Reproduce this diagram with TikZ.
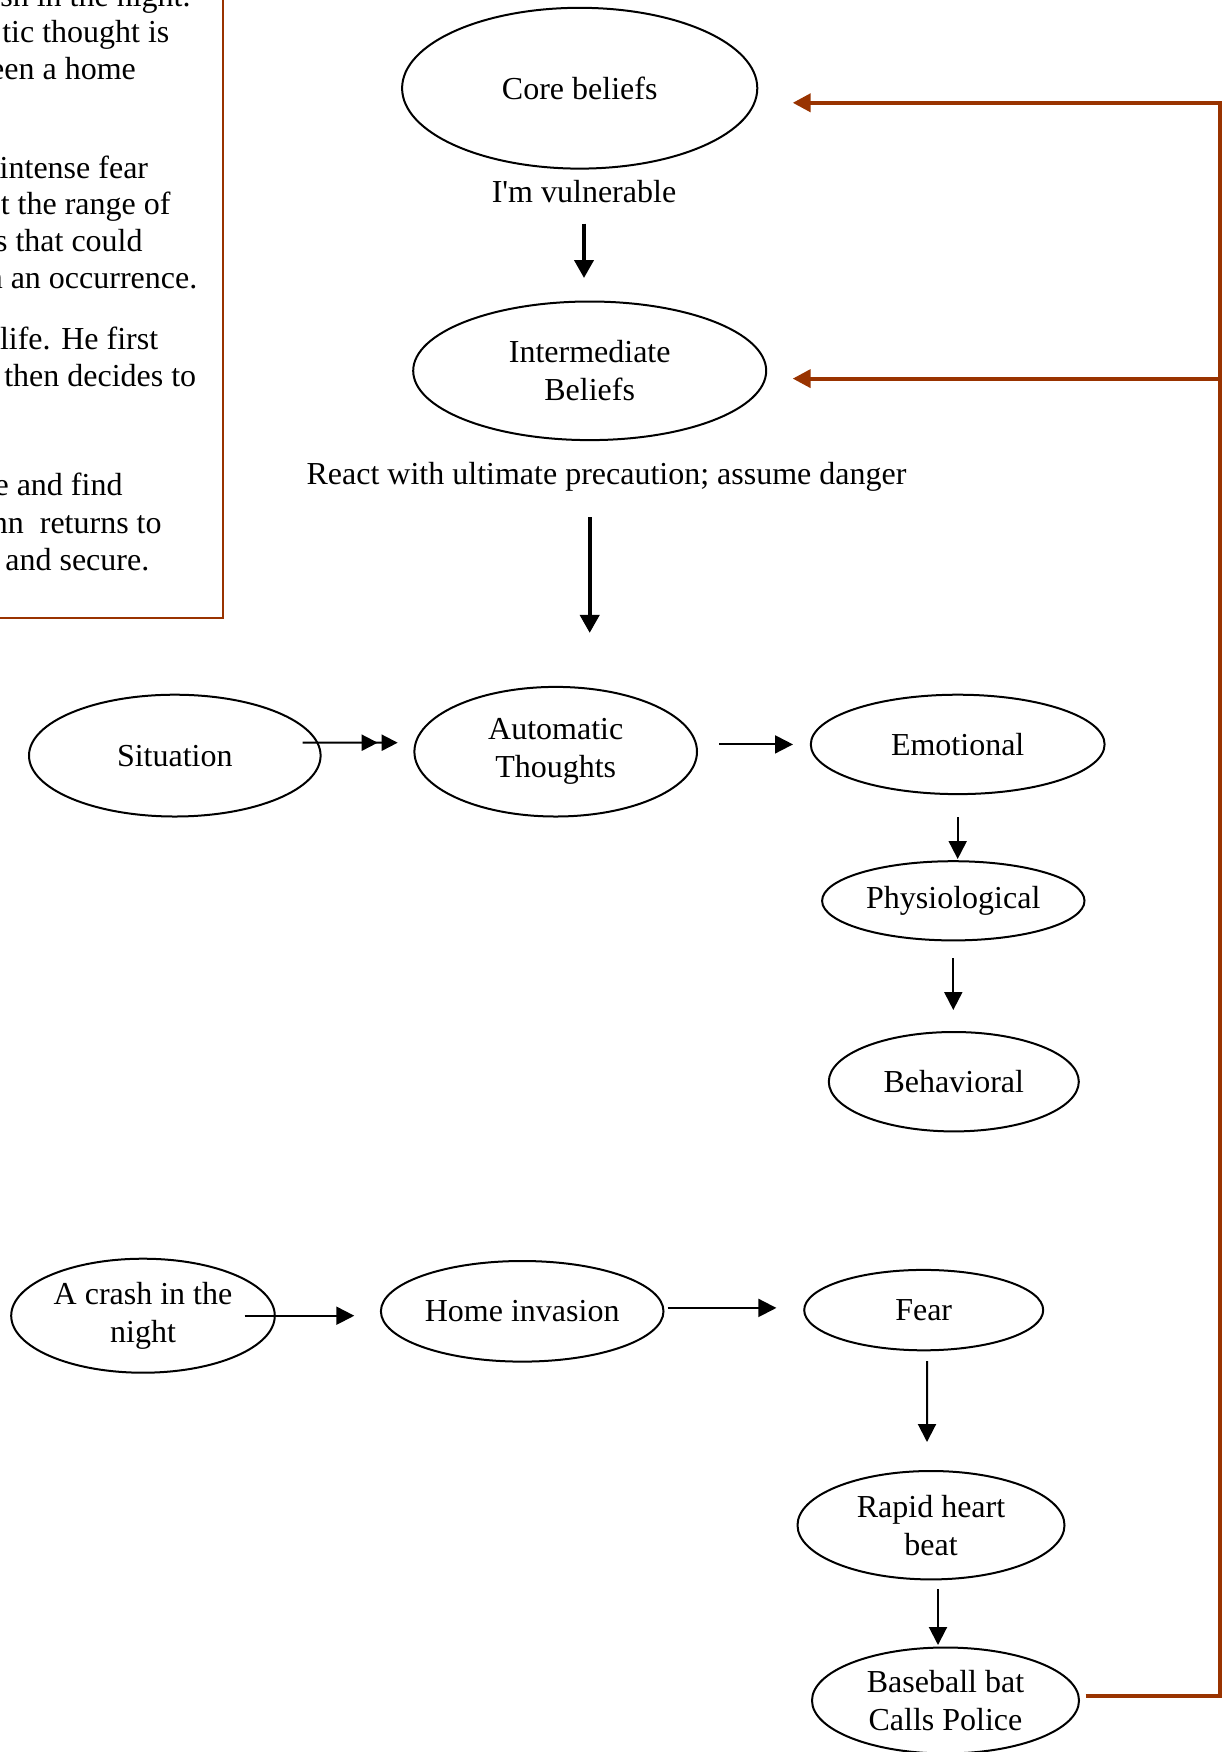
\documentclass[tikz,border=0pt]{standalone}
\usepackage{fontspec}
\setmainfont{Liberation Serif}
\usetikzlibrary{arrows.meta}
\usepgflibrary{shapes.geometric}
\usetikzlibrary{calc}
\definecolor{rust}{HTML}{993300}
\tikzset{
  bubble/.style={draw, ellipse, line width=1pt, inner sep=0pt, align=center},
  lbl/.style={inner sep=0pt},
  boxtext/.style={anchor=base east, inner sep=0pt},
  arr/.style={line width=1pt, -{Triangle[length=9pt,width=9pt]}},
  bigarr/.style={line width=2pt, -{Triangle[length=9pt,width=9.5pt]}},
  dblarr/.style={line width=1pt, -{Triangle[length=8pt,width=8pt,sep=2pt]Triangle[length=8pt,width=8pt]}},
  redarr/.style={color=rust, line width=2pt, line join=miter, -{Triangle[length=9pt,width=9pt]}}
}

\begin{document}
\begin{tikzpicture}[x=0.5pt, y=-0.5pt, font=\fontsize{16}{19}\selectfont]
          \useasboundingbox (0,0) rectangle (1223,1752);

          % story box, cut by the left edge
          \draw [color=rust, line width=1pt] (-20,-20) rectangle (223.4,617.6);
          \node[boxtext] (t1) at (191,6) {sh in the night.};
          \node[boxtext] (t2) at (169.8,42.9) {tic thought is};
          \node[boxtext] (t3) at (136.3,79.8) {een a home};
          \node[boxtext] (t4) at (148.5,178.5) {intense fear};
          \node[boxtext] (t5) at (170.9,214.3) {t the range of};
          \node[boxtext] (t6) at (143,251.1) {s that could};
          \node[boxtext] (t7) at (197.7,288) {n an occurrence.};
          \node[boxtext] (t8) at (158.6,349.4) {life. He first};
          \node[boxtext] (t9) at (196.6,386.3) {then decides to};
          \node[boxtext] (t10) at (122.9,495.7) {e and find};
          \node[boxtext] (t11) at (162,533.7) {nn\ \ returns to};
          \node[boxtext] (t12) at (149.7,570.6) {and secure.};

          % beliefs
          \node[bubble, minimum width=177.6pt, minimum height=80.4pt] (core) at (579.7,88.2) {Core beliefs};
          \node[lbl] (vuln) at (584,192) {I\textquotesingle m vulnerable};
          \node[bubble, minimum width=176.5pt, minimum height=69.3pt] (inter) at (589.7,370.8) {Intermediate\\Beliefs};
          \node[lbl] (react) at (606.5,477) {React with ultimate precaution; assume danger};

          % general model
          \node[bubble, minimum width=145.8pt, minimum height=60.9pt] (sit) at (174.8,755.6) {Situation};
          \node[bubble, minimum width=141.3pt, minimum height=64.8pt] (auto) at (555.7,751.7) {Automatic\\Thoughts};
          \node[bubble, minimum width=146.9pt, minimum height=49.7pt] (emo) at (957.7,744.4) {Emotional};
          \node[bubble, minimum width=131.2pt, minimum height=39.6pt] (phys) at (953.3,900.8) {Physiological};
          \node[bubble, minimum width=125pt, minimum height=49.7pt] (behav) at (953.8,1081.7) {Behavioral};

          % example
          \node[bubble, minimum width=131.8pt, minimum height=57pt] (crash) at (143,1315.7) {A crash in the\\night};
          \node[bubble, minimum width=141.3pt, minimum height=50.3pt] (home) at (522.2,1311.3) {Home invasion};
          \node[bubble, minimum width=119.5pt, minimum height=40.2pt] (fear) at (923.7,1310.1) {Fear};
          \node[bubble, minimum width=133.5pt, minimum height=54.2pt] (rapid) at (931,1525.2) {Rapid heart\\beat};
          \node[bubble, minimum width=133.5pt, minimum height=53pt] (bat) at (945.5,1700.5) {Baseball bat\\Calls Police};

          \draw[bigarr, shorten <=10pt, shorten >=11.25pt] (vuln.south) -- (vuln.south |- inter.north);
          \draw[bigarr, shorten <=38pt, shorten >=26.5pt] (inter.south) -- (inter.south |- auto.north);

          \draw[dblarr, shorten <=-9.5pt, shorten >=7.85pt] ([yshift=6.45pt]sit.east) -- ([yshift=4.5pt]auto.west);
          \draw[arr, shorten <=10.5pt, shorten >=8.4pt] (auto.east |- emo.west) -- (emo.west);
          \draw[arr, shorten <=11pt, shorten >=0.6pt] (emo.south) -- (emo.south |- phys.north);
          \draw[arr, shorten <=8.3pt, shorten >=10.5pt] (phys.south) -- (phys.south |- behav.north);

          \draw[arr, shorten <=-15.6pt, shorten >=12.8pt] (crash.east) -- (crash.east -| home.west);
          \draw[arr, shorten <=1.6pt, shorten >=13.4pt] ([yshift=1.7pt]home.east) -- ([yshift=1.1pt]fear.west);
          \draw[arr, shorten <=4.9pt, shorten >=14pt] ([xshift=1.65pt]fear.south) -- ([xshift=-2pt]rapid.north);
          \draw[arr, shorten <=4.3pt, shorten >=0.75pt] ([xshift=3.5pt]rapid.south) -- ([xshift=-3.75pt]bat.north);

          % feedback line
          \coordinate (rb) at (1220,1696);
          \coordinate (rt) at (1220,102.8);
          \coordinate (rm) at (1220,378.6);
          \draw[redarr, shorten >=17.2pt] ([xshift=2.75pt,yshift=2.25pt]bat.east) -- (rb) -- (rt) -- (rt -| core.east);
          \draw[redarr, shorten >=12.75pt] (rm) -- (rm -| inter.east);
        \end{tikzpicture}
\end{document}
